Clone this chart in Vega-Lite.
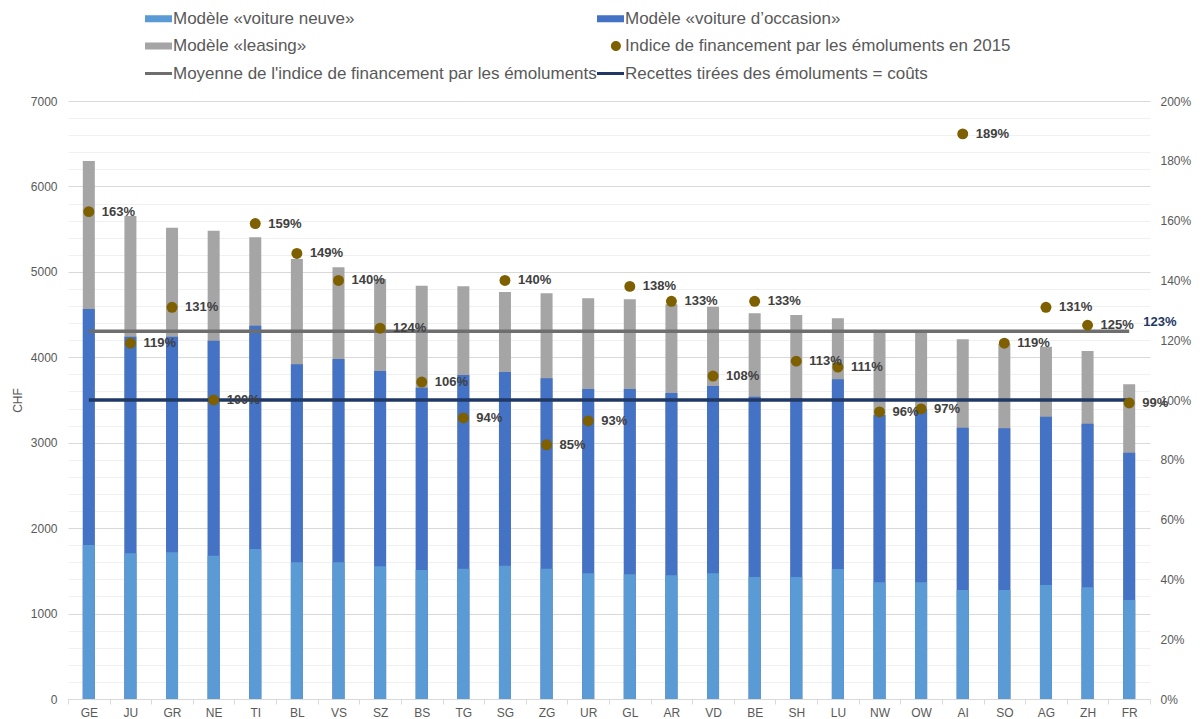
{
  "$schema": "https://vega.github.io/schema/vega-lite/v6.json",
  "width": 1082,
  "height": 598,
  "autosize": {"type": "none"},
  "padding": {"left": 68, "top": 101, "right": 53, "bottom": 20},
  "config": {
    "font": "Liberation Sans",
    "view": {"stroke": null},
    "axis": {"labelFont": "Liberation Sans", "titleFont": "Liberation Sans"}
  },
  "datasets": {
    "bars": [
      {"c": "GE", "s": "Modèle «leasing»", "v": 6298},
      {"c": "JU", "s": "Modèle «leasing»", "v": 5654},
      {"c": "GR", "s": "Modèle «leasing»", "v": 5517},
      {"c": "NE", "s": "Modèle «leasing»", "v": 5482},
      {"c": "TI", "s": "Modèle «leasing»", "v": 5405},
      {"c": "BL", "s": "Modèle «leasing»", "v": 5150},
      {"c": "VS", "s": "Modèle «leasing»", "v": 5054},
      {"c": "SZ", "s": "Modèle «leasing»", "v": 4917},
      {"c": "BS", "s": "Modèle «leasing»", "v": 4838},
      {"c": "TG", "s": "Modèle «leasing»", "v": 4831},
      {"c": "SG", "s": "Modèle «leasing»", "v": 4764},
      {"c": "ZG", "s": "Modèle «leasing»", "v": 4749},
      {"c": "UR", "s": "Modèle «leasing»", "v": 4690},
      {"c": "GL", "s": "Modèle «leasing»", "v": 4679},
      {"c": "AR", "s": "Modèle «leasing»", "v": 4620},
      {"c": "VD", "s": "Modèle «leasing»", "v": 4592},
      {"c": "BE", "s": "Modèle «leasing»", "v": 4515},
      {"c": "SH", "s": "Modèle «leasing»", "v": 4495},
      {"c": "LU", "s": "Modèle «leasing»", "v": 4457},
      {"c": "NW", "s": "Modèle «leasing»", "v": 4300},
      {"c": "OW", "s": "Modèle «leasing»", "v": 4300},
      {"c": "AI", "s": "Modèle «leasing»", "v": 4210},
      {"c": "SO", "s": "Modèle «leasing»", "v": 4155},
      {"c": "AG", "s": "Modèle «leasing»", "v": 4124},
      {"c": "ZH", "s": "Modèle «leasing»", "v": 4074},
      {"c": "FR", "s": "Modèle «leasing»", "v": 3684},
      {"c": "GE", "s": "Modèle «voiture d’occasion»", "v": 4565},
      {"c": "JU", "s": "Modèle «voiture d’occasion»", "v": 4241},
      {"c": "GR", "s": "Modèle «voiture d’occasion»", "v": 4241},
      {"c": "NE", "s": "Modèle «voiture d’occasion»", "v": 4194},
      {"c": "TI", "s": "Modèle «voiture d’occasion»", "v": 4370},
      {"c": "BL", "s": "Modèle «voiture d’occasion»", "v": 3918},
      {"c": "VS", "s": "Modèle «voiture d’occasion»", "v": 3980},
      {"c": "SZ", "s": "Modèle «voiture d’occasion»", "v": 3840},
      {"c": "BS", "s": "Modèle «voiture d’occasion»", "v": 3644},
      {"c": "TG", "s": "Modèle «voiture d’occasion»", "v": 3793},
      {"c": "SG", "s": "Modèle «voiture d’occasion»", "v": 3828},
      {"c": "ZG", "s": "Modèle «voiture d’occasion»", "v": 3754},
      {"c": "UR", "s": "Modèle «voiture d’occasion»", "v": 3629},
      {"c": "GL", "s": "Modèle «voiture d’occasion»", "v": 3629},
      {"c": "AR", "s": "Modèle «voiture d’occasion»", "v": 3582},
      {"c": "VD", "s": "Modèle «voiture d’occasion»", "v": 3664},
      {"c": "BE", "s": "Modèle «voiture d’occasion»", "v": 3539},
      {"c": "SH", "s": "Modèle «voiture d’occasion»", "v": 3520},
      {"c": "LU", "s": "Modèle «voiture d’occasion»", "v": 3742},
      {"c": "NW", "s": "Modèle «voiture d’occasion»", "v": 3325},
      {"c": "OW", "s": "Modèle «voiture d’occasion»", "v": 3390},
      {"c": "AI", "s": "Modèle «voiture d’occasion»", "v": 3176},
      {"c": "SO", "s": "Modèle «voiture d’occasion»", "v": 3170},
      {"c": "AG", "s": "Modèle «voiture d’occasion»", "v": 3305},
      {"c": "ZH", "s": "Modèle «voiture d’occasion»", "v": 3222},
      {"c": "FR", "s": "Modèle «voiture d’occasion»", "v": 2883},
      {"c": "GE", "s": "Modèle «voiture neuve»", "v": 1803},
      {"c": "JU", "s": "Modèle «voiture neuve»", "v": 1706},
      {"c": "GR", "s": "Modèle «voiture neuve»", "v": 1717},
      {"c": "NE", "s": "Modèle «voiture neuve»", "v": 1678},
      {"c": "TI", "s": "Modèle «voiture neuve»", "v": 1756},
      {"c": "BL", "s": "Modèle «voiture neuve»", "v": 1600},
      {"c": "VS", "s": "Modèle «voiture neuve»", "v": 1600},
      {"c": "SZ", "s": "Modèle «voiture neuve»", "v": 1553},
      {"c": "BS", "s": "Modèle «voiture neuve»", "v": 1510},
      {"c": "TG", "s": "Modèle «voiture neuve»", "v": 1526},
      {"c": "SG", "s": "Modèle «voiture neuve»", "v": 1561},
      {"c": "ZG", "s": "Modèle «voiture neuve»", "v": 1526},
      {"c": "UR", "s": "Modèle «voiture neuve»", "v": 1471},
      {"c": "GL", "s": "Modèle «voiture neuve»", "v": 1460},
      {"c": "AR", "s": "Modèle «voiture neuve»", "v": 1448},
      {"c": "VD", "s": "Modèle «voiture neuve»", "v": 1471},
      {"c": "BE", "s": "Modèle «voiture neuve»", "v": 1428},
      {"c": "SH", "s": "Modèle «voiture neuve»", "v": 1428},
      {"c": "LU", "s": "Modèle «voiture neuve»", "v": 1522},
      {"c": "NW", "s": "Modèle «voiture neuve»", "v": 1366},
      {"c": "OW", "s": "Modèle «voiture neuve»", "v": 1366},
      {"c": "AI", "s": "Modèle «voiture neuve»", "v": 1276},
      {"c": "SO", "s": "Modèle «voiture neuve»", "v": 1276},
      {"c": "AG", "s": "Modèle «voiture neuve»", "v": 1334},
      {"c": "ZH", "s": "Modèle «voiture neuve»", "v": 1307},
      {"c": "FR", "s": "Modèle «voiture neuve»", "v": 1159}
    ],
    "idx": [
      {"c": "GE", "s": "Indice de financement par les émoluments en 2015", "p": 1.63},
      {"c": "JU", "s": "Indice de financement par les émoluments en 2015", "p": 1.19},
      {"c": "GR", "s": "Indice de financement par les émoluments en 2015", "p": 1.31},
      {"c": "NE", "s": "Indice de financement par les émoluments en 2015", "p": 1.00},
      {"c": "TI", "s": "Indice de financement par les émoluments en 2015", "p": 1.59},
      {"c": "BL", "s": "Indice de financement par les émoluments en 2015", "p": 1.49},
      {"c": "VS", "s": "Indice de financement par les émoluments en 2015", "p": 1.40},
      {"c": "SZ", "s": "Indice de financement par les émoluments en 2015", "p": 1.24},
      {"c": "BS", "s": "Indice de financement par les émoluments en 2015", "p": 1.06},
      {"c": "TG", "s": "Indice de financement par les émoluments en 2015", "p": 0.94},
      {"c": "SG", "s": "Indice de financement par les émoluments en 2015", "p": 1.40},
      {"c": "ZG", "s": "Indice de financement par les émoluments en 2015", "p": 0.85},
      {"c": "UR", "s": "Indice de financement par les émoluments en 2015", "p": 0.93},
      {"c": "GL", "s": "Indice de financement par les émoluments en 2015", "p": 1.38},
      {"c": "AR", "s": "Indice de financement par les émoluments en 2015", "p": 1.33},
      {"c": "VD", "s": "Indice de financement par les émoluments en 2015", "p": 1.08},
      {"c": "BE", "s": "Indice de financement par les émoluments en 2015", "p": 1.33},
      {"c": "SH", "s": "Indice de financement par les émoluments en 2015", "p": 1.13},
      {"c": "LU", "s": "Indice de financement par les émoluments en 2015", "p": 1.11},
      {"c": "NW", "s": "Indice de financement par les émoluments en 2015", "p": 0.96},
      {"c": "OW", "s": "Indice de financement par les émoluments en 2015", "p": 0.97},
      {"c": "AI", "s": "Indice de financement par les émoluments en 2015", "p": 1.89},
      {"c": "SO", "s": "Indice de financement par les émoluments en 2015", "p": 1.19},
      {"c": "AG", "s": "Indice de financement par les émoluments en 2015", "p": 1.31},
      {"c": "ZH", "s": "Indice de financement par les émoluments en 2015", "p": 1.25},
      {"c": "FR", "s": "Indice de financement par les émoluments en 2015", "p": 0.99}
    ],
    "lines": [
      {"c": "GE", "s": "Moyenne de l'indice de financement par les émoluments", "p": 1.23},
      {"c": "FR", "s": "Moyenne de l'indice de financement par les émoluments", "p": 1.23},
      {"c": "GE", "s": "Recettes tirées des émoluments = coûts", "p": 1.0},
      {"c": "FR", "s": "Recettes tirées des émoluments = coûts", "p": 1.0}
    ],
    "avglabel": [
      {"c": "FR", "p": 1.23}
    ]
  },
  "encoding": {
    "x": {
      "field": "c",
      "type": "nominal",
      "sort": null,
      "scale": {
        "domain": ["GE","JU","GR","NE","TI","BL","VS","SZ","BS","TG","SG","ZG","UR","GL","AR","VD","BE","SH","LU","NW","OW","AI","SO","AG","ZH","FR"],
        "paddingInner": 0,
        "paddingOuter": 0
      },
      "axis": {
        "title": null,
        "labelAngle": 0,
        "labelFontSize": 12,
        "labelColor": "#595959",
        "labelPadding": 3,
        "tickBand": "extent",
        "ticks": true,
        "tickSize": 5,
        "tickColor": "#d9d9d9",
        "domainColor": "#d9d9d9",
        "grid": false
      }
    }
  },
  "layer": [
    {
      "data": {"name": "bars"},
      "mark": {"type": "bar", "width": 12},
      "encoding": {
        "y": {
          "field": "v",
          "type": "quantitative",
          "stack": null,
          "scale": {"domain": [0, 7000], "nice": false},
          "axis": {
            "title": "CHF",
            "titleFontSize": 12,
            "titleFontWeight": "normal",
            "titleColor": "#595959",
            "titlePadding": 6,
            "values": [0,200,400,600,800,1000,1200,1400,1600,1800,2000,2200,2400,2600,2800,3000,3200,3400,3600,3800,4000,4200,4400,4600,4800,5000,5200,5400,5600,5800,6000,6200,6400,6600,6800,7000],
            "format": "d",
            "labelExpr": "datum.value % 1000 === 0 ? datum.label : ''",
            "labelFontSize": 12,
            "labelColor": "#595959",
            "labelPadding": 11,
            "ticks": false,
            "domain": false,
            "grid": true,
            "gridColor": {"condition": {"test": "datum.value % 1000 === 0", "value": "#d9d9d9"}, "value": "#f0f0f0"},
            "gridWidth": 1
          }
        },
        "color": {
          "field": "s",
          "type": "nominal",
          "scale": {
            "domain": [
              "Modèle «voiture neuve»",
              "Modèle «voiture d’occasion»",
              "Modèle «leasing»",
              "Indice de financement par les émoluments en 2015",
              "Moyenne de l'indice de financement par les émoluments",
              "Recettes tirées des émoluments = coûts"
            ],
            "range": ["#5B9BD5", "#4472C4", "#A5A5A5", "#7F6000", "#6E6E6E", "#1F3864"]
          },
          "legend": {
            "title": null,
            "orient": "none",
            "direction": "horizontal",
            "legendX": 77,
            "legendY": -96,
            "columns": 2,
            "columnPadding": 0,
            "rowPadding": 5.5,
            "symbolSize": 729,
            "symbolStrokeWidth": 0,
            "symbolOpacity": 1,
            "labelOffset": 1,
            "labelFontSize": 17,
            "labelColor": "#595959",
            "labelLimit": 1000,
            "encode": {
              "symbols": {
                "update": {
                  "fill": {"scale": "color", "field": "value"},
                  "strokeWidth": {"value": 0},
                  "shape": {"signal": "datum.index === 3 ? 'M0.77,0A0.37,0.37,0,1,1,0.03,0A0.37,0.37,0,1,1,0.77,0Z' : (datum.index >= 4 ? 'M-1,-0.11H1V0.11H-1Z' : 'M-1,-0.26H1V0.26H-1Z')"}
                }
              }
            }
          }
        }
      }
    },
    {
      "encoding": {
        "y": {
          "field": "p",
          "type": "quantitative",
          "scale": {"domain": [0, 2], "nice": false},
          "axis": {
            "orient": "right",
            "title": null,
            "values": [0, 0.2, 0.4, 0.6, 0.8, 1.0, 1.2, 1.4, 1.6, 1.8, 2.0],
            "format": ".0%",
            "labelFontSize": 12,
            "labelColor": "#595959",
            "labelPadding": 10,
            "ticks": false,
            "domain": false,
            "grid": false
          }
        }
      },
      "layer": [
        {
          "data": {"name": "lines"},
          "mark": {"type": "line", "strokeWidth": 3.5},
          "encoding": {
            "color": {"field": "s", "type": "nominal", "legend": null}
          }
        },
        {
          "data": {"name": "idx"},
          "mark": {"type": "point", "filled": true, "size": 120, "opacity": 1},
          "encoding": {
            "color": {"field": "s", "type": "nominal", "legend": null}
          }
        },
        {
          "data": {"name": "idx"},
          "mark": {"type": "text", "align": "left", "baseline": "middle", "dx": 13, "fontSize": 13, "fontWeight": "bold", "color": "#404040"},
          "encoding": {
            "text": {"field": "p", "type": "quantitative", "format": ".0%"}
          }
        },
        {
          "data": {"name": "avglabel"},
          "mark": {"type": "text", "align": "left", "baseline": "middle", "dx": 14, "dy": -9, "fontSize": 13, "fontWeight": "bold", "color": "#1F3864"},
          "encoding": {
            "text": {"field": "p", "type": "quantitative", "format": ".0%"}
          }
        }
      ]
    }
  ],
  "resolve": {"scale": {"y": "independent"}}
}
